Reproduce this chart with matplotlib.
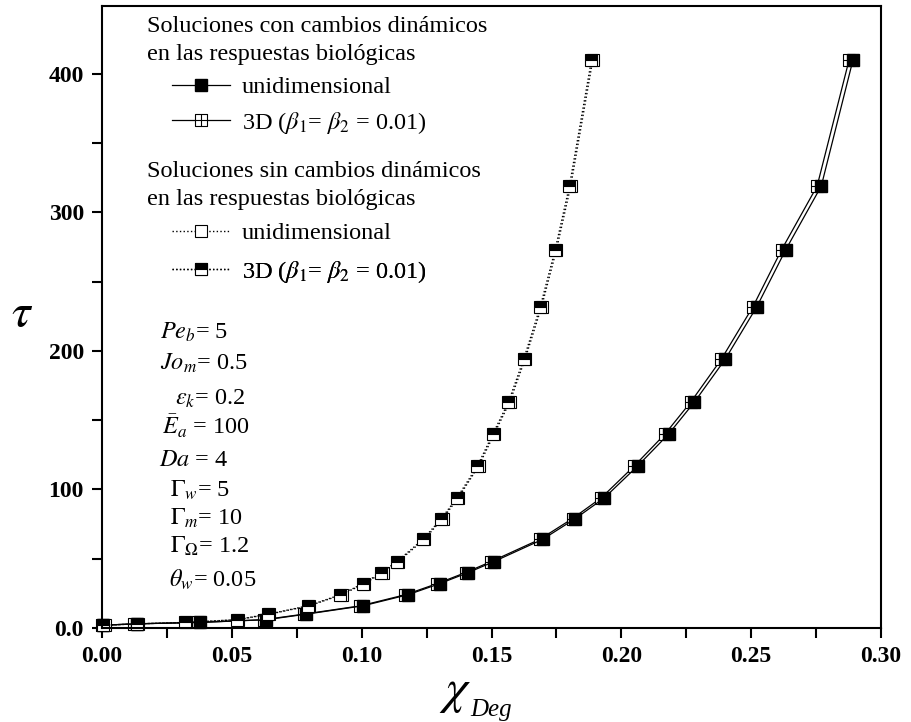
import matplotlib
matplotlib.use('Agg')
import matplotlib.pyplot as plt
from matplotlib.lines import Line2D
from matplotlib.path import Path
from matplotlib.ticker import MultipleLocator, FuncFormatter

plt.rcParams['font.family'] = ['Liberation Serif', 'DejaVu Serif']
plt.rcParams['mathtext.fontset'] = 'stix'

# tau levels (shared by all series)
tau = [2, 3, 4, 6, 10, 16, 24, 32, 40, 48, 64, 79, 94, 117, 140, 163, 194, 232, 273, 319, 410]

# with dynamic changes in biological responses
chi_1d_dyn = [0.0005, 0.0133, 0.0377, 0.0633, 0.0787, 0.1005, 0.1178, 0.1300, 0.1410, 0.1510,
              0.1697, 0.1823, 0.1935, 0.2063, 0.2182, 0.2281, 0.2400, 0.2522, 0.2633, 0.2770, 0.2892]
chi_3d_dyn = [0.0000, 0.0124, 0.0368, 0.0623, 0.0777, 0.0995, 0.1168, 0.1290, 0.1400, 0.1499,
              0.1686, 0.1812, 0.1923, 0.2050, 0.2168, 0.2267, 0.2385, 0.2507, 0.2617, 0.2754, 0.2877]

# without dynamic changes
chi_3d_st = [0.0005, 0.0134, 0.0319, 0.0518, 0.0640, 0.0793, 0.0918, 0.1005, 0.1076, 0.1136,
             0.1236, 0.1307, 0.1367, 0.1446, 0.1505, 0.1565, 0.1624, 0.1688, 0.1745, 0.1800, 0.1885]
chi_1d_st = [0.0010, 0.0139, 0.0324, 0.0523, 0.0645, 0.0798, 0.0923, 0.1010, 0.1081, 0.1141,
             0.1241, 0.1312, 0.1372, 0.1451, 0.1510, 0.1570, 0.1629, 0.1693, 0.1750, 0.1805, 0.1890]

params = [r'$Pe_b$= 5', r'$Jo_m$= 0.5', r'$\varepsilon_k$= 0.2', r'$\bar{E}_a$ = 100', r'$Da$ = 4',
          r'$\Gamma_w$= 5', r'$\Gamma_m$= 10', r'$\Gamma_\Omega$= 1.2', r'$\theta_w$= 0.05']
param_x = [160, 160, 175, 162, 159, 170, 170, 170, 169]
param_y = [339, 370, 405, 435, 466, 497, 525, 553, 587]

titles = ['Soluciones con cambios dinámicos', 'en las respuestas biológicas',
          'Soluciones sin cambios dinámicos', 'en las respuestas biológicas']
title_y = [32, 60, 177, 205]
lab3d = r'3D ($\beta_{\mathit{1}}$= $\beta_{\mathit{2}}$ = 0.01)'
entry_labels = ['unidimensional', lab3d, 'unidimensional', lab3d]
entry_y = [87, 123, 233, 272]

# square with a cross inside
sq_cross = Path([(-1, -1), (1, -1), (1, 1), (-1, 1), (-1, -1), (0, -1), (0, 1), (-1, 0), (1, 0)],
                [Path.MOVETO, Path.LINETO, Path.LINETO, Path.LINETO, Path.CLOSEPOLY,
                 Path.MOVETO, Path.LINETO, Path.MOVETO, Path.LINETO])

fig = plt.figure(figsize=(9.11, 7.22), dpi=100)
ax = fig.add_axes([102/911, 94/722, 779/911, 622/722])

def ax_x(px):
    return (px - 102) / 779

def ax_y(py):
    return (628 - py) / 622

ms = 9
style_3d_dyn = dict(color='black', lw=0.9, ls='-', marker=sq_cross, ms=ms, mfc='white', mec='black', mew=0.8)
style_1d_dyn = dict(color='black', lw=0.9, ls='-', marker='s', ms=ms, mfc='black', mec='black')
style_1d_st = dict(color='black', lw=1.0, ls=':', marker='s', ms=ms, mfc='white', mec='black', mew=0.8)
style_3d_st = dict(color='black', lw=1.0, ls=':', marker='s', ms=ms, fillstyle='top',
                   mfc='black', mfcalt='white', mec='black', mew=0.8)

lines = [ax.plot(chi_3d_dyn, tau, **style_3d_dyn)[0],
         ax.plot(chi_1d_dyn, tau, **style_1d_dyn)[0],
         ax.plot(chi_1d_st, tau, **style_1d_st)[0],
         ax.plot(chi_3d_st, tau, **style_3d_st)[0]]
for l in lines:
    l.set_clip_on(False)

ax.set_xlim(0, 0.30)
ax.set_ylim(0, 449)
ax.xaxis.set_major_locator(MultipleLocator(0.05))
ax.xaxis.set_minor_locator(MultipleLocator(0.025))
ax.yaxis.set_major_locator(MultipleLocator(100))
ax.yaxis.set_minor_locator(MultipleLocator(50))
ax.xaxis.set_major_formatter(FuncFormatter(lambda v, p: '%.2f' % v))
ax.yaxis.set_major_formatter(FuncFormatter(lambda v, p: '0.0' if v == 0 else '%d' % v))
ax.tick_params(which='both', direction='out', length=7, width=1.5, top=False, right=False)
ax.tick_params(which='major', labelsize=17, pad=6)
for t in ax.get_xticklabels() + ax.get_yticklabels():
    t.set_fontweight('bold')
for s in ax.spines.values():
    s.set_linewidth(1.5)

fig.text(22/911, 1 - 315/722, r'$\tau$', fontsize=34, ha='center', va='center')
fig.text(455/911, 1 - 692/722, r'$\chi$', fontsize=36, ha='center', va='center')
fig.text(470/911, 1 - 710/722, 'Deg', fontsize=18, style='italic', ha='left', va='center')

for s, x, y in zip(params, param_x, param_y):
    ax.text(ax_x(x), ax_y(y), s, fontsize=17.5, ha='left', va='baseline', transform=ax.transAxes)

for s, y in zip(titles, title_y):
    ax.text(ax_x(147), ax_y(y), s, fontsize=17.5, ha='left', va='baseline', transform=ax.transAxes)

handles = [Line2D([], [], **style_1d_dyn), Line2D([], [], **style_3d_dyn),
           Line2D([], [], **style_1d_st), Line2D([], [], **style_3d_st)]
for h, lab, y in zip(handles, entry_labels, entry_y):
    leg = ax.legend([h], [lab], loc='center left', bbox_to_anchor=(ax_x(172), ax_y(y)),
                    frameon=False, fontsize=17.5, handlelength=2.4, handletextpad=0.48,
                    borderpad=0, borderaxespad=0)
    ax.add_artist(leg)

fig.savefig('out.png', dpi=100)
